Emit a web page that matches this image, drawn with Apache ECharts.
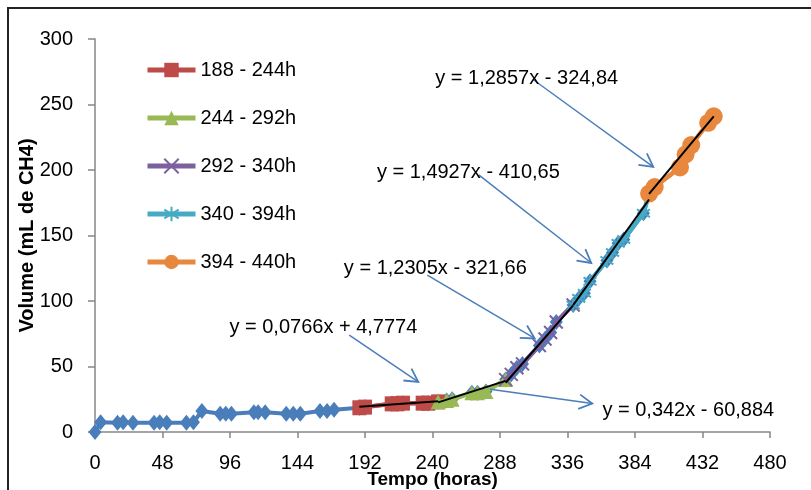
<!DOCTYPE html>
<html>
<head>
<meta charset="utf-8">
<script src="https://cdn.jsdelivr.net/npm/echarts@6/dist/echarts.min.js"></script>
<style>
  html, body { margin: 0; padding: 0; background: #fff; }
  #chart { width: 811px; height: 490px; }
</style>
</head>
<body>
<div id="chart"></div>
<script>
// all measurements (hours, mL CH4)
const tempo = [0, 4, 16, 20, 27, 42, 46, 51, 65, 70, 76, 89, 93, 97, 113, 116, 121, 136, 141, 146, 160, 165, 170,
  188, 192, 211, 215, 219, 233, 237, 244,
  250, 254, 268, 272, 278, 292,
  296, 300, 304, 316, 320, 324, 328, 340,
  344, 348, 352, 364, 368, 372, 376, 390, 394,
  398, 416, 420, 424, 436, 440];
const volume = [0, 7.5, 7, 7.5, 7, 7, 7.5, 7, 7, 7.5, 16, 14, 14, 14, 15, 15, 15, 14, 14, 14, 16, 16, 17,
  18.5, 19, 21.5, 21.5, 22, 22, 22, 23,
  24, 25, 30, 30, 31, 40,
  44, 49, 52, 66, 71, 76, 84, 97,
  102, 106, 115, 131, 137, 144, 147, 167, 182,
  187, 202, 212, 219, 236, 241];

const segNames = ['188 - 244h', '244 - 292h', '292 - 340h', '340 - 394h', '394 - 440h'];
const segRanges = [[188, 244], [244, 292], [292, 340], [340, 394], [394, 440]];

// linear trend lines, one per segment
const trendX = [[188, 244], [244, 292], [292, 340], [340, 394], [394, 440]];
const trendY = [[19.2, 23.5], [22.6, 39.0], [37.6, 96.7], [96.9, 177.5], [181.7, 240.9]];

const eqTexts = ['y = 1,2857x - 324,84', 'y = 1,4927x - 410,65', 'y = 1,2305x - 321,66',
  'y = 0,0766x + 4,7774', 'y = 0,342x - 60,884'];
const eqTextAt = [[307, 270], [265.5, 198.4], [242, 125], [162.4, 80], [421.9, 16.6]];
const arrowFrom = [[311.7, 268.9], [272.9, 196.3], [236.3, 119.8], [180.8, 74], [281, 32.6]];
const arrowTo = [[397, 202.4], [352.9, 129], [312.7, 71.4], [229.9, 38.2], [353.6, 21.7]];

const blue = '#4a7ebb';
const segColors = ['#be4b48', '#98b954', '#7d60a0', '#46aac5', '#e8883e'];
const segSymbols = [
  'rect',
  'triangle',
  'path://M0,0L10,10M10,0L0,10',
  'path://M5,0L5,10M0,2L10,8M10,2L0,8',
  'circle'
];
const segSizes = [[14, 15], 15, 13, 13, 18];

const font = "'Liberation Sans', Arial, sans-serif";
const chart = echarts.init(document.getElementById('chart'));

const allPoints = tempo.map((t, i) => [t, volume[i]]);

const series = [{
  name: 'Todos',
  type: 'line',
  data: allPoints,
  symbol: 'diamond',
  symbolSize: [13, 16],
  lineStyle: { color: blue, width: 4 },
  itemStyle: { color: blue },
  z: 2
}];

segNames.forEach((name, k) => {
  const [a, b] = segRanges[k];
  const isPath = segSymbols[k].startsWith('path');
  series.push({
    name,
    type: 'line',
    data: allPoints.filter(p => p[0] >= a && p[0] <= b),
    symbol: segSymbols[k],
    symbolSize: segSizes[k],
    lineStyle: { color: segColors[k], width: 4.5 },
    itemStyle: isPath
      ? { color: segColors[k], borderColor: segColors[k], borderWidth: 2 }
      : { color: segColors[k] },
    z: 3 + k
  });
});

trendX.forEach((xs, k) => {
  series.push({
    name: 'trend' + k,
    type: 'line',
    data: [[xs[0], trendY[k][0]], [xs[1], trendY[k][1]]],
    symbol: 'none',
    lineStyle: { color: '#000', width: 2 },
    silent: true,
    z: 20
  });
});

const axisGray = '#868686';

chart.setOption({
  animation: false,
  textStyle: { fontFamily: font },
  grid: { left: 95, right: 41, top: 39, bottom: 58, outerBoundsMode: 'none' },
  legend: {
    data: segNames,
    orient: 'vertical',
    left: 145,
    top: 59,
    padding: 0,
    itemWidth: 48,
    itemHeight: 18,
    itemGap: 26,
    lineStyle: { width: 5 },
    textStyle: { fontSize: 20, color: '#000', lineHeight: 22, fontFamily: font }
  },
  xAxis: {
    type: 'value',
    min: 0,
    max: 480,
    interval: 48,
    name: 'Tempo (horas)',
    nameLocation: 'middle',
    nameGap: 38,
    nameMoveOverlap: false,
    nameTextStyle: { fontSize: 19, fontWeight: 'bold', color: '#000' },
    axisLine: { show: true, lineStyle: { color: axisGray, width: 1.5 } },
    axisTick: { show: true, length: 6, lineStyle: { color: axisGray, width: 1.5 } },
    axisLabel: { fontSize: 20, color: '#000', margin: 21 },
    splitLine: { show: false }
  },
  yAxis: {
    type: 'value',
    min: 0,
    max: 300,
    interval: 50,
    name: 'Volume (mL de CH4)',
    nameLocation: 'middle',
    nameGap: 58,
    nameMoveOverlap: false,
    nameTextStyle: { fontSize: 20, fontWeight: 'bold', color: '#000' },
    axisLine: { show: true, lineStyle: { color: axisGray, width: 1.5 } },
    axisTick: { show: true, length: 7, lineStyle: { color: axisGray, width: 1.5 } },
    axisLabel: { fontSize: 20, color: '#000', margin: 22 },
    splitLine: { show: false }
  },
  series
});

// equation labels and arrows
const graphics = [{
  type: 'rect',
  shape: { x: 8, y: 8, width: 900, height: 600 },
  style: { fill: null, stroke: '#222', lineWidth: 2 },
  silent: true
}];

eqTexts.forEach((txt, k) => {
  const p = chart.convertToPixel({ gridIndex: 0 }, eqTextAt[k]);
  graphics.push({
    type: 'text',
    x: p[0],
    y: p[1],
    style: { text: txt, fontSize: 20, fontFamily: font, fill: '#000', align: 'center', verticalAlign: 'middle' },
    z: 30
  });
  const s = chart.convertToPixel({ gridIndex: 0 }, arrowFrom[k]);
  const e = chart.convertToPixel({ gridIndex: 0 }, arrowTo[k]);
  const ang = Math.atan2(e[1] - s[1], e[0] - s[0]);
  const len = 15, spread = 0.5;
  const h1 = [e[0] - len * Math.cos(ang - spread), e[1] - len * Math.sin(ang - spread)];
  const h2 = [e[0] - len * Math.cos(ang + spread), e[1] - len * Math.sin(ang + spread)];
  graphics.push({
    type: 'line',
    shape: { x1: s[0], y1: s[1], x2: e[0], y2: e[1] },
    style: { stroke: blue, lineWidth: 1.5 },
    z: 25
  });
  graphics.push({
    type: 'polyline',
    shape: { points: [h1, e, h2] },
    style: { stroke: blue, lineWidth: 1.8, fill: null },
    z: 25
  });
});

chart.setOption({ graphic: graphics });
</script>
</body>
</html>
